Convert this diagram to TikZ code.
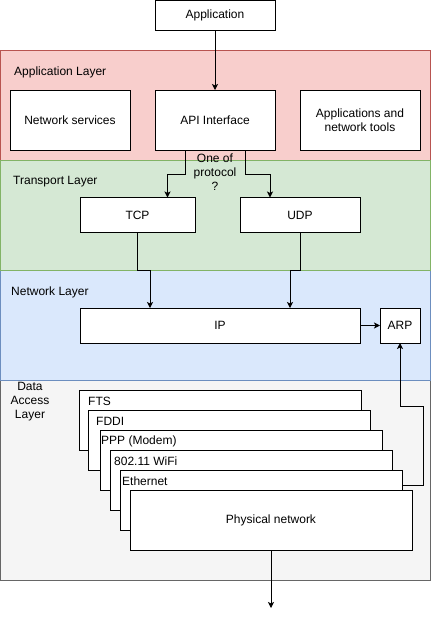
\documentclass[tikz,border=0pt]{standalone}
\usepackage{fontspec}
\setmainfont{Liberation Sans}
\usetikzlibrary{arrows.meta,calc}
\definecolor{applayerfill}{HTML}{F8CECC}
\definecolor{applayerdraw}{HTML}{B85450}
\definecolor{translayerfill}{HTML}{D5E8D4}
\definecolor{translayerdraw}{HTML}{82B366}
\definecolor{netlayerfill}{HTML}{DAE8FC}
\definecolor{netlayerdraw}{HTML}{6C8EBF}
\definecolor{datalayerfill}{HTML}{F5F5F5}
\definecolor{datalayerdraw}{HTML}{666666}

\tikzset{
	layer/.style={anchor=north west, line width=1pt, inner sep=0pt, outer sep=0pt, minimum width=430pt, minimum height=110pt},
	box/.style={anchor=north west, draw=black, fill=white, line width=1pt, inner sep=0pt, outer sep=0pt, align=center, font=\fontsize{12}{14}\selectfont},
	txt/.style={inner sep=0pt, font=\fontsize{12}{14}\selectfont},
	arr/.style={line width=1pt, -{Stealth[length=6pt, width=6pt, inset=1.5pt]}}
}

\begin{document}
\begin{tikzpicture}[x=1pt, y=-1pt]
	
			\useasboundingbox (0,0) rectangle (431,619);
			
			% Draw layers.
			\node[layer, fill=applayerfill, draw=applayerdraw] (applayer) at (0,50) {};
			\node[layer, fill=datalayerfill, draw=datalayerdraw, minimum height=200pt] (datalayer) at (0,380) {};
			\node[layer, fill=netlayerfill, draw=netlayerdraw] (netlayer) at (0,270) {};
			\node[layer, fill=translayerfill, draw=translayerdraw] (translayer) at (0,160) {};
			
			% Layer names.
			\node[txt, anchor=west] (applabel) at (14,72) {Application Layer};
			\node[txt, anchor=west] (translabel) at (13,182) {Transport Layer};
			\node[txt, anchor=west] (netlabel) at (11,292) {Network Layer};
			\node[txt, align=center] (datalabel) at (30,402) {Data\\Access\\Layer};
			
			% Application and application layer boxes.
			\node[box, minimum width=120pt, minimum height=30pt] (app) at (155,0) {Application};
			\node[box, minimum width=120pt, minimum height=60pt] (netserv) at (10,90) {Network services};
			\node[box, minimum width=120pt, minimum height=60pt] (api) at (155,90) {API Interface};
			\node[box, minimum width=120pt, minimum height=60pt] (tools) at (300,90) {Applications and\\network tools};
			
			% Transport and network boxes.
			\node[box, minimum width=115pt, minimum height=35pt] (tcp) at (80,197.5) {TCP};
			\node[box, minimum width=120pt, minimum height=35pt] (udp) at (240,197.5) {UDP};
			\node[box, minimum width=280pt, minimum height=35pt] (ip) at (80,308) {IP};
			\node[box, minimum width=40pt, minimum height=35pt] (arp) at (380,308) {ARP};
			
			\node[txt, align=center] (choice) at (215,172) {One of\\protocol\\?};
			
			% Draw stacked data access boxes, back to front.
			\foreach \nm/\x/\y/\tx/\txt in {fts/79/390/88/FTS, fddi/88/410/96/FDDI, ppp/100/430/101/{PPP (Modem)}, wifi/110/450/114/{802.11 WiFi}, eth/120/470/122/Ethernet} {
				\node[box, minimum width=282pt, minimum height=60pt] (\nm) at (\x,\y) {};
				\node[txt, anchor=west] (\nm label) at (\tx,\y+11) {\txt};
			}
			\node[box, minimum width=282pt, minimum height=60pt] (phys) at (130,490) {Physical network};
			
			\coordinate (wire) at (271,608);
			
			% Draw connectors.
			\draw[arr] (app.south) -- (api.north);
			\draw[arr] ([xshift=-30pt]api.south) -- ++(0,24) -| ([xshift=30pt]tcp.north);
			\draw[arr] ([xshift=30pt]api.south) -- ++(0,24) -| ([xshift=-30pt]udp.north);
			\draw[arr] (tcp.south) -- (tcp.south |- netlayer.north) -| ([xshift=-70pt]ip.north);
			\draw[arr] (udp.south) -- (udp.south |- netlayer.north) -| ([xshift=70pt]ip.north);
			\draw[arr] (ip.east) -- (arp.west);
			\draw[arr] ([yshift=-15pt]eth.north east) -- ++(21,0) -- ++(0,-79) -| (arp.south);
			\draw[arr] (phys.south) -- (wire);
			
\end{tikzpicture}
\end{document}
